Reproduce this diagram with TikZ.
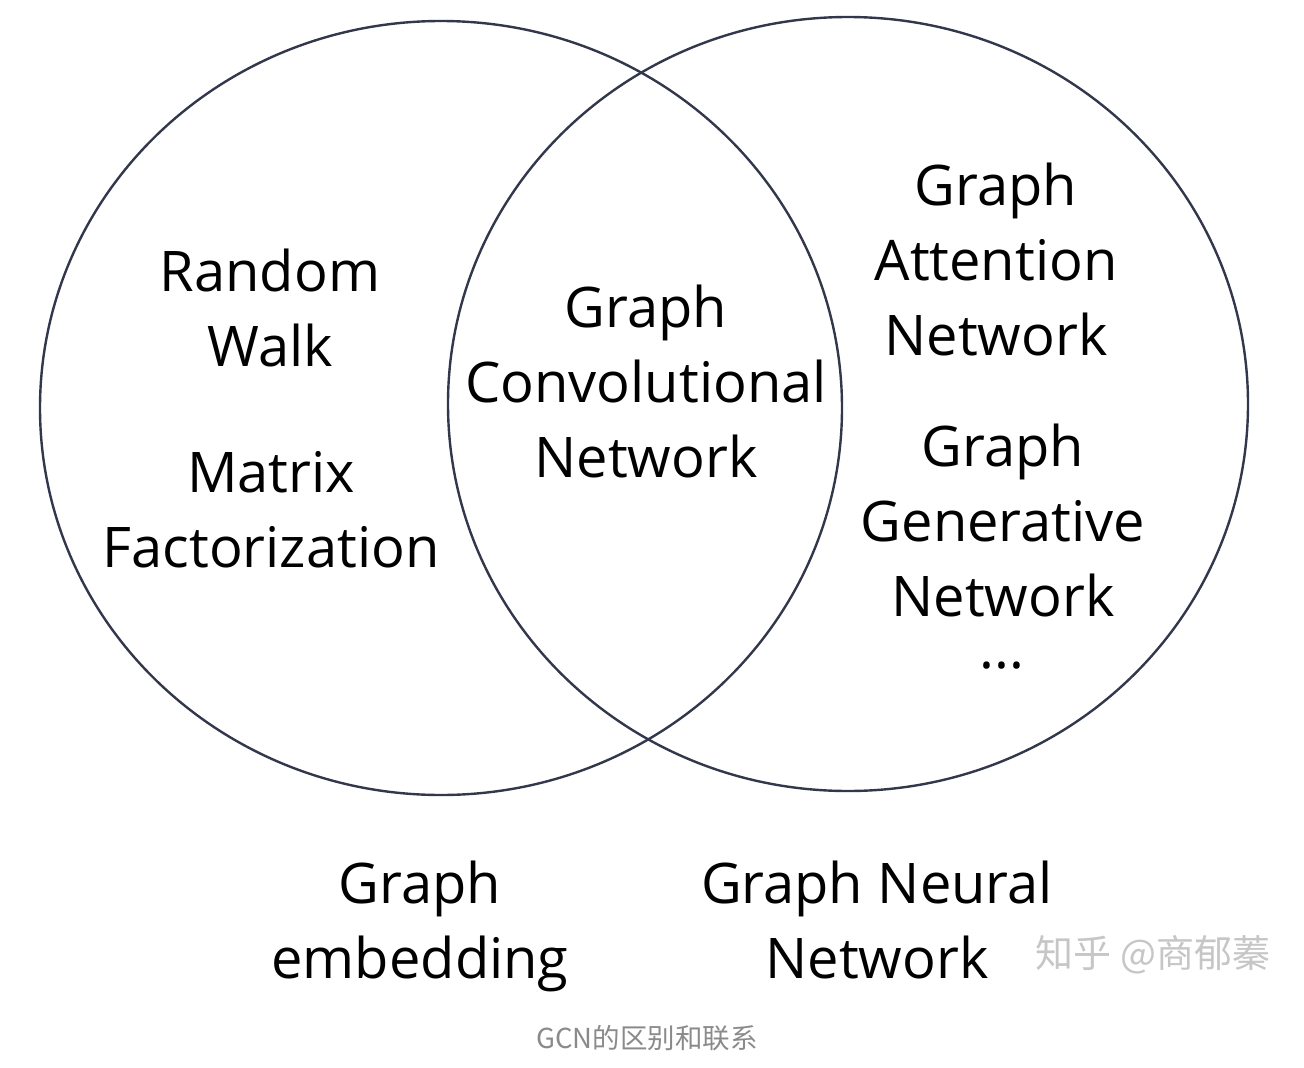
\documentclass[tikz,border=0pt]{standalone}
\usepackage{fontspec}
\setmainfont{Open Sans}
\newfontfamily\cjk{Noto Sans CJK SC}
\usepackage{xcolor}
\usepackage{tikz}
\definecolor{ringcol}{RGB}{50,55,75}
\definecolor{capgray}{RGB}{138,138,138}
\definecolor{markgray}{RGB}{198,198,198}
\tikzset{lbl/.style={align=center, anchor=base, font=\fontsize{56}{75}\selectfont}}

\begin{document}
\begin{tikzpicture}[x=1pt,y=-1pt]
		\useasboundingbox (0,0) rectangle (1304,1068);
		% Draw the two ellipses
		\draw[ringcol, line width=2.4pt] (441,408) ellipse [x radius=401pt, y radius=387pt];
		\draw[ringcol, line width=2.4pt] (848,404) ellipse [x radius=400pt, y radius=387pt];
		% Labels inside the left ellipse
		\node[lbl] (v1) at (270,366) {Random\\Walk};
		\node[lbl] (v2) at (271,567) {Matrix\\Factorization};
		% Label in the overlap
		\node[lbl] (v3) at (646,477) {Graph\\Convolutional\\Network};
		% Labels inside the right ellipse
		\node[lbl] (v4) at (996,355) {Graph\\Attention\\Network};
		\node[lbl] (v5) at (1003,616) {Graph\\Generative\\Network};
		\node[lbl] (v6) at (1002,668) {...};
		% Names of the two sets
		\node[lbl] (v7) at (420,978) {Graph\\embedding};
		\node[lbl] (v8) at (877,978) {Graph Neural\\Network};
		% Watermark and caption
		\node[markgray, font=\cjk\fontsize{38}{40}\selectfont] (v9) at (1153,955) {知乎 @商郁蓁};
		\node[capgray, font=\cjk\fontsize{27.5}{30}\selectfont] (v10) at (647,1038) {GCN的区别和联系};
\end{tikzpicture}
\end{document}
